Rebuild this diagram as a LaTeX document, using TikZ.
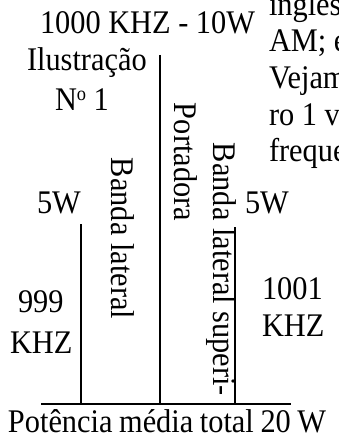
\documentclass[tikz,border=0pt]{standalone}
\usepackage{fontspec}
\setmainfont{Liberation Serif}[FakeStretch=0.92]
\begin{document}
\begin{tikzpicture}[x=1pt,y=-1pt,
  txt/.style={inner sep=0pt,outer sep=0pt,anchor=base west,
    font=\fontsize{33}{33}\selectfont},
  vtxt/.style={txt,rotate=-90},
  bar/.style={line width=2.6pt}]
\clip (0,0) rectangle (338,438);

% spectrum: base line and the three components
\coordinate (b0) at (41,404);
\coordinate (b1) at (291,404);
\coordinate (lsTop) at (81,224);
\coordinate (lsBot) at (81,404);
\coordinate (cTop) at (160,55);
\coordinate (cBot) at (160,404);
\coordinate (usTop) at (235,227);
\coordinate (usBot) at (235,404);
\draw[bar] (b0) -- (b1);
\draw[bar] (lsTop) -- (lsBot);
\draw[bar] (cTop) -- (cBot);
\draw[bar] (usTop) -- (usBot);

% labels
\node[txt] (title) at (40,34) {1000 KHZ - 10W};
\node[txt] (ilu) at (27,71) {Ilustração};
\node[txt] (num) at (55,111) {N\raisebox{10pt}{\fontsize{20}{20}\selectfont o}\ 1};
\node[txt] (pl) at (37,213) {5W};
\node[txt] (pr) at (245,213) {5W};
\node[txt] (fl1) at (18,312) {999};
\node[txt] (fl2) at (10,353) {KHZ};
\node[txt] (fr1) at (262,299) {1001};
\node[txt] (fr2) at (262,336) {KHZ};
\node[txt] (total) at (8,432) {\spaceskip=0.2em Potência média total 20 W};

% vertical labels of the components
\node[vtxt] (lsl) at (111,158) {Banda lateral};
\node[vtxt] (cl) at (174,103) {Portadora};
\node[vtxt] (usl) at (213,143) {Banda lateral superi-};

% running text beside the figure
\node[txt] (r1) at (269,16) {ingles};
\node[txt] (r2) at (269,52) {AM; e};
\node[txt] (r3) at (269,89) {Vejam};
\node[txt] (r4) at (269,126) {ro 1 v};
\node[txt] (r5) at (269,162) {freque};
\end{tikzpicture}
\end{document}
